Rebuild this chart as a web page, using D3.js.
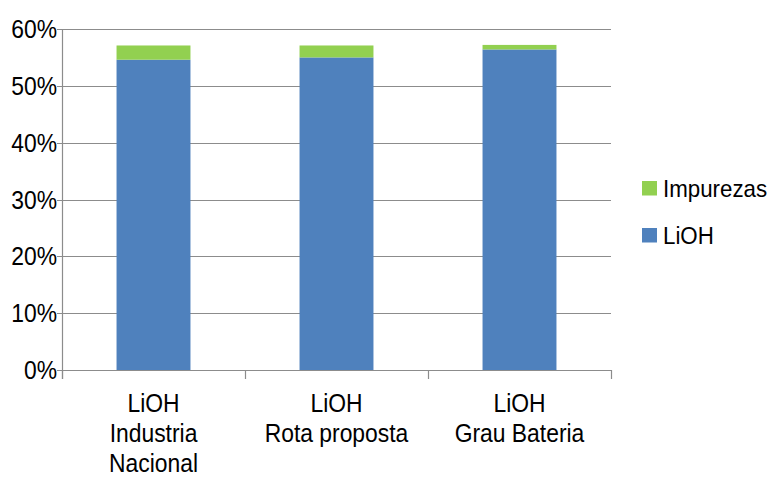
<!DOCTYPE html>
<html>
<head>
<meta charset="utf-8">
<script src="https://cdn.jsdelivr.net/npm/d3@7"></script>
<style>
html,body{margin:0;padding:0;background:#fff;}
svg{display:block;}
text{font-family:"Liberation Sans",Arial,sans-serif;fill:#000;}
</style>
</head>
<body>
<svg id="chart" width="774" height="478"></svg>
<script>
const categories = [["LiOH","Industria","Nacional"],["LiOH","Rota proposta"],["LiOH","Grau Bateria"]];
const lioh = [54.6, 55.0, 56.4];
const impurezas = [2.5, 2.1, 0.8];
const yTicks = [0, 10, 20, 30, 40, 50, 60];
const seriesNames = ["Impurezas", "LiOH"];
const seriesColors = ["#92D050", "#4F81BD"];

(function () {
const svg = d3.select("#chart");
const pLeft = 62, pRight = 611, pTop = 29, pBottom = 370;
const sx = 0.88;

const x = d3.scaleBand().domain(d3.range(categories.length)).range([pLeft, pRight]).padding(0);
const y = d3.scaleLinear().domain([0, 60]).range([pBottom, pTop]);

function label(g, tx, ty, str, anchor, size, scale) {
  g.append("g").attr("transform", `translate(${tx},${ty}) scale(${scale},1)`)
    .append("text").attr("x", 0).attr("y", 0)
    .attr("text-anchor", anchor).style("font-size", size + "px").text(str);
}

// gridlines
const grid = svg.append("g");
yTicks.forEach(t => {
  if (t === 0) return;
  grid.append("line").attr("x1", pLeft - 5).attr("x2", pRight)
    .attr("y1", Math.round(y(t)) + 0.5).attr("y2", Math.round(y(t)) + 0.5)
    .attr("stroke", "#8c8c8c").attr("stroke-width", 1.2);
});

// bars
const bw = x.bandwidth() * 0.404;
const bars = svg.append("g");
categories.forEach((c, i) => {
  const cx = x(i) + x.bandwidth() / 2;
  bars.append("rect").attr("x", cx - bw / 2).attr("width", bw)
    .attr("y", y(lioh[i])).attr("height", y(0) - y(lioh[i])).attr("fill", seriesColors[1]);
  bars.append("rect").attr("x", cx - bw / 2).attr("width", bw)
    .attr("y", y(lioh[i] + impurezas[i])).attr("height", y(lioh[i]) - y(lioh[i] + impurezas[i])).attr("fill", seriesColors[0]);
});

// axes
const ax = svg.append("g").attr("stroke", "#8c8c8c").attr("stroke-width", 1.2);
ax.append("line").attr("x1", pLeft + 0.5).attr("x2", pLeft + 0.5).attr("y1", pTop).attr("y2", pBottom + 9);
ax.append("line").attr("x1", pLeft - 5).attr("x2", pRight).attr("y1", pBottom + 0.5).attr("y2", pBottom + 0.5);
d3.range(categories.length + 1).forEach(i => {
  const xx = i < categories.length ? x(i) : pRight;
  ax.append("line").attr("x1", Math.round(xx) + 0.5).attr("x2", Math.round(xx) + 0.5)
    .attr("y1", pBottom).attr("y2", pBottom + 9);
});

// y labels
const yl = svg.append("g");
yTicks.forEach(t => {
  label(yl, pLeft - 5, y(t) + 9, t + "%", "end", 26, sx);
});

// x labels
const xl = svg.append("g");
categories.forEach((lines, i) => {
  const cx = x(i) + x.bandwidth() / 2;
  lines.forEach((s, j) => {
    label(xl, cx, 412 + j * 30, s, "middle", 26, sx);
  });
});

// legend
const lg = svg.append("g");
const legY = [188, 235];
seriesNames.forEach((n, i) => {
  lg.append("rect").attr("x", 642).attr("y", legY[i] - 7).attr("width", 15).attr("height", 14.5).attr("fill", seriesColors[i]);
  label(lg, 663, legY[i] + 9, n, "start", 24, 0.93);
});
})();
</script>
</body>
</html>
